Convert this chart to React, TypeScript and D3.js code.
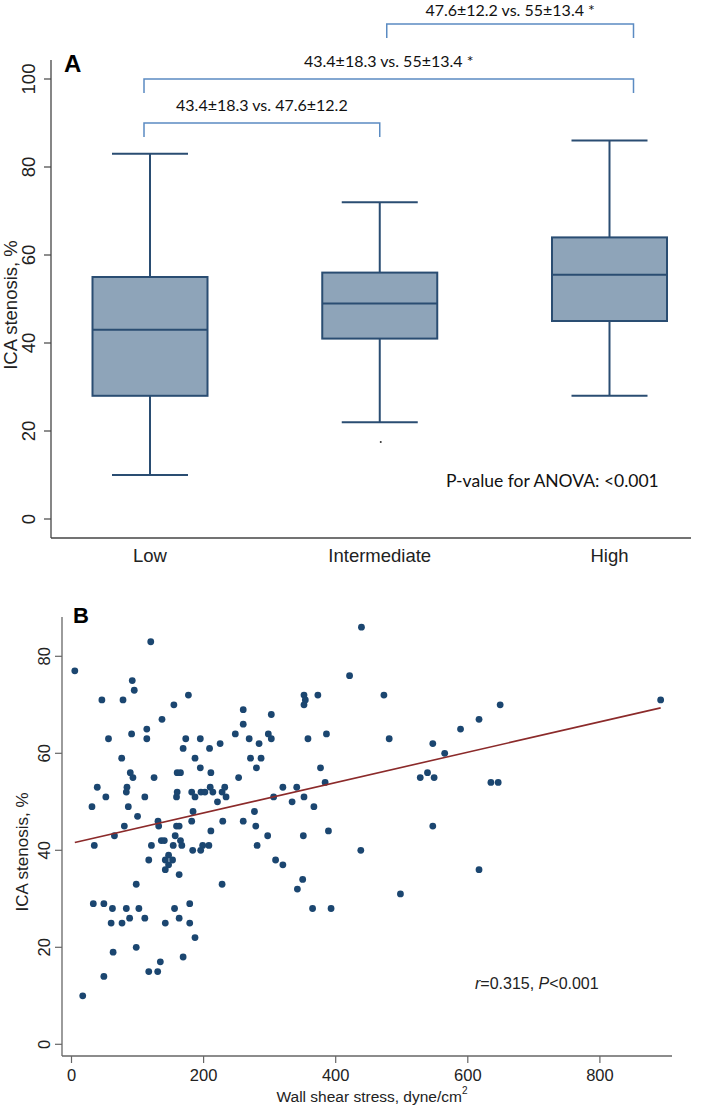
import React from "react";
import * as d3 from "d3";

// ---------- Panel A data ----------
const categories = ["Low", "Intermediate", "High"];
const whiskerLow = [10, 22, 28];
const q1 = [28, 41, 45];
const medians = [43, 49, 55.5];
const q3 = [55, 56, 64];
const whiskerHigh = [83, 72, 86];
const outlierCategory = ["Intermediate"];
const outlierValue = [17.5];
const yTicksA = [0, 20, 40, 60, 80, 100];

// comparison brackets: from category, to category, height (value), label
const bracketFrom = ["Intermediate", "Low", "Low"];
const bracketTo = ["High", "High", "Intermediate"];
const bracketLevel = [112.5, 100, 90];
const bracketLabels = [
  "47.6±12.2 vs. 55±13.4 *",
  "43.4±18.3 vs. 55±13.4 *",
  "43.4±18.3 vs. 47.6±12.2",
];

// ---------- Panel B data ----------
const wss = [
  120, 439, 421, 5,
  92, 95, 46, 78, 155, 177, 137, 114, 114, 91, 56, 76, 89, 93, 125, 39, 52, 31, 84, 83, 86, 111, 100, 80, 65, 34.5,
  121, 131, 132, 159, 163, 157, 136, 140.5, 154, 165, 167, 183.5, 195.6, 198.6, 208, 182, 184, 211, 229, 221, 159,
  160, 182, 187, 196, 202, 210, 214, 228, 232, 234, 253, 211, 160, 165, 195, 187, 169, 173, 195, 209, 225, 248, 260,
  260, 269, 284, 298, 302.5, 302.5, 271, 287, 280, 320, 341, 306, 334, 352, 367, 277, 260, 279, 297, 281, 351, 309,
  352, 354, 352, 373, 358, 377,
  473, 386, 481, 384, 389, 438, 350, 528, 539, 549, 547, 565, 589, 617, 649, 635, 646, 547, 617, 892,
  342, 365, 393, 498,
  117, 142, 147, 153, 147, 142, 163, 98, 228, 320, 33, 49, 62, 83, 102, 60, 76.5, 88, 111, 142, 156, 163, 179, 179,
  187, 63, 98, 169, 134.5, 117, 130.5, 49, 17,
];
const stenosis = [
  83, 86, 76, 77,
  75, 73, 71, 71, 70, 72, 67, 65, 63, 64, 63, 59, 56, 55, 55, 53, 51, 49, 53, 52, 49, 51, 47, 45, 43, 41,
  41, 46, 45, 45, 45, 43, 42, 42, 41, 42, 41, 40, 40, 41, 41, 46, 48, 44, 46, 50, 51,
  52, 52, 51, 52, 52, 53, 52, 52, 53, 51, 55, 56, 56, 56, 57, 59, 61, 63, 63, 61, 62, 64, 66,
  69, 63, 62, 64, 63, 68, 59, 59, 57, 53, 53, 51, 50, 51, 49, 48, 46, 45, 43, 41, 43, 38,
  72, 71, 70, 72, 63, 57,
  72, 64, 63, 54, 44, 40, 34, 55, 56, 55, 62, 60, 65, 67, 70, 54, 54, 45, 36, 71,
  32, 28, 28, 31,
  38, 38, 39, 38, 37, 36, 35, 33, 33, 37, 29, 29, 28, 28, 28, 25, 25, 26, 26, 25, 28, 26, 29, 25,
  22, 19, 20, 18, 17, 15, 15, 14, 10,
];
const fitIntercept = 41.45;
const fitSlope = 0.0313;
const fitRange = [5, 892];
const xTicksB = [0, 200, 400, 600, 800];
const yTicksB = [0, 20, 40, 60, 80];

const ARIAL = "'Liberation Sans', Arial, sans-serif";
const CALIBRI = "Lato, 'Open Sans', sans-serif";

export default function App() {
  // Panel A scales
  const xA = d3.scalePoint<string>().domain(categories).range([150, 609.5]);
  const yA = d3.scaleLinear().domain([0, 100]).range([519, 79]);
  const boxW = 115;
  const capW = 76;

  // Panel B scales
  const xB = d3.scaleLinear().domain([0, 800]).range([71.5, 599.9]);
  const yB = d3.scaleLinear().domain([0, 80]).range([1044.3, 656.3]);
  const fitLine = d3
    .line<number>()
    .x((d) => xB(d))
    .y((d) => yB(fitIntercept + fitSlope * d))(fitRange);

  const boxStroke = "#2a4d72";
  const boxFill = "#8ea4b9";
  const bracketColor = "#5b8bc2";

  // bracket end offsets relative to category centres
  const bracketLeftOff = [7, -6, -6];
  const bracketRightOff = [24, 24, 0];
  const labelGap = [8, 12, 12];

  return (
    <svg
      width={709}
      height={1107}
      style={{ position: "absolute", left: 0, top: 0, background: "#fff" }}
    >
      <rect x={0} y={0} width={709} height={1107} fill="#fff" />
      {/* ================= Panel A ================= */}
      {bracketLabels.map((lab, i) => {
        const x1 = (xA(bracketFrom[i]) as number) + bracketLeftOff[i];
        const x2 = (xA(bracketTo[i]) as number) + bracketRightOff[i];
        const y = yA(bracketLevel[i]);
        const legs = 14;
        return (
          <g key={"br" + i}>
            <path
              d={`M${x1},${y + legs} L${x1},${y} L${x2},${y} L${x2},${y + legs}`}
              fill="none"
              stroke={bracketColor}
              strokeWidth={1.5}
            />
            <text
              x={(x1 + x2) / 2}
              y={y - labelGap[i]}
              textAnchor="middle"
              fontFamily={CALIBRI}
              fontSize={16}
              fill="#111"
            >
              {lab}
            </text>
          </g>
        );
      })}
      <text x={64} y={72} fontFamily={ARIAL} fontWeight="bold" fontSize={24} fill="#000">
        A
      </text>
      <line x1={51} y1={60} x2={51} y2={538} stroke="#444" strokeWidth={1.3} />
      <line x1={51} y1={538} x2={691} y2={538} stroke="#444" strokeWidth={1.3} />
      {yTicksA.map((t) => (
        <g key={"ya" + t}>
          <line x1={44} x2={51} y1={yA(t)} y2={yA(t)} stroke="#444" strokeWidth={1.2} />
          <text
            x={28.5}
            y={yA(t)}
            transform={`rotate(-90, 28.5, ${yA(t)})`}
            textAnchor="middle"
            dominantBaseline="central"
            fontFamily={ARIAL}
            fontSize={18.5}
            fill="#222"
          >
            {t}
          </text>
        </g>
      ))}
      <text
        x={10}
        y={305}
        transform="rotate(-90, 10, 305)"
        textAnchor="middle"
        dominantBaseline="central"
        fontFamily={ARIAL}
        fontSize={18.5}
        fill="#222"
      >
        ICA stenosis, %
      </text>
      {categories.map((c) => (
        <text
          key={"cl" + c}
          x={xA(c)}
          y={555}
          textAnchor="middle"
          dominantBaseline="central"
          fontFamily={ARIAL}
          fontSize={18.5}
          fill="#222"
        >
          {c}
        </text>
      ))}
      {categories.map((c, i) => {
        const cx = xA(c) as number;
        return (
          <g key={"box" + c} stroke={boxStroke} strokeWidth={2}>
            <line x1={cx} x2={cx} y1={yA(whiskerHigh[i])} y2={yA(q3[i])} />
            <line x1={cx} x2={cx} y1={yA(q1[i])} y2={yA(whiskerLow[i])} />
            <line x1={cx - capW / 2} x2={cx + capW / 2} y1={yA(whiskerHigh[i])} y2={yA(whiskerHigh[i])} />
            <line x1={cx - capW / 2} x2={cx + capW / 2} y1={yA(whiskerLow[i])} y2={yA(whiskerLow[i])} />
            <rect
              x={cx - boxW / 2}
              y={yA(q3[i])}
              width={boxW}
              height={yA(q1[i]) - yA(q3[i])}
              fill={boxFill}
            />
            <line x1={cx - boxW / 2} x2={cx + boxW / 2} y1={yA(medians[i])} y2={yA(medians[i])} />
          </g>
        );
      })}
      {outlierValue.map((v, i) => (
        <circle key={"out" + i} cx={(xA(outlierCategory[i]) as number) + 1} cy={yA(v)} r={1} fill="#333" />
      ))}
      <text x={446} y={480} dominantBaseline="central" fontFamily={CALIBRI} fontSize={17.5} fill="#111">
        P-value for ANOVA: &lt;0.001
      </text>

      {/* ================= Panel B ================= */}
      <text x={73} y={623} fontFamily={ARIAL} fontWeight="bold" fontSize={22} fill="#000">
        B
      </text>
      <line x1={62} y1={617} x2={62} y2={1056} stroke="#666" strokeWidth={1.3} />
      <line x1={62} y1={1056} x2={672} y2={1056} stroke="#666" strokeWidth={1.3} />
      {yTicksB.map((t) => (
        <g key={"yb" + t}>
          <line x1={55} x2={62} y1={yB(t)} y2={yB(t)} stroke="#666" strokeWidth={1.2} />
          <text
            x={44}
            y={yB(t)}
            transform={`rotate(-90, 44, ${yB(t)})`}
            textAnchor="middle"
            dominantBaseline="central"
            fontFamily={ARIAL}
            fontSize={16.5}
            fill="#222"
          >
            {t}
          </text>
        </g>
      ))}
      <text
        x={22}
        y={852}
        transform="rotate(-90, 22, 852)"
        textAnchor="middle"
        dominantBaseline="central"
        fontFamily={ARIAL}
        fontSize={17}
        fill="#222"
      >
        ICA stenosis, %
      </text>
      {xTicksB.map((t) => (
        <g key={"xb" + t}>
          <line x1={xB(t)} x2={xB(t)} y1={1056} y2={1063} stroke="#666" strokeWidth={1.2} />
          <text
            x={xB(t)}
            y={1075}
            textAnchor="middle"
            dominantBaseline="central"
            fontFamily={ARIAL}
            fontSize={16.5}
            fill="#222"
          >
            {t}
          </text>
        </g>
      ))}
      <text
        x={372}
        y={1096}
        textAnchor="middle"
        dominantBaseline="central"
        fontFamily={ARIAL}
        fontSize={15.5}
        fill="#222"
      >
        Wall shear stress, dyne/cm
        <tspan dy={-6} fontSize={10}>
          2
        </tspan>
      </text>
      {wss.map((w, i) => (
        <circle key={"pt" + i} cx={xB(w)} cy={yB(stenosis[i])} r={3.4} fill="#1b4670" />
      ))}
      <path d={fitLine || ""} fill="none" stroke="#8b2a2a" strokeWidth={1.6} />
      <text x={475} y={983} dominantBaseline="central" fontFamily={ARIAL} fontSize={16} fill="#222">
        <tspan fontStyle="italic">r</tspan>
        <tspan>=0.315, </tspan>
        <tspan fontStyle="italic">P</tspan>
        <tspan>&lt;0.001</tspan>
      </text>
    </svg>
  );
}
